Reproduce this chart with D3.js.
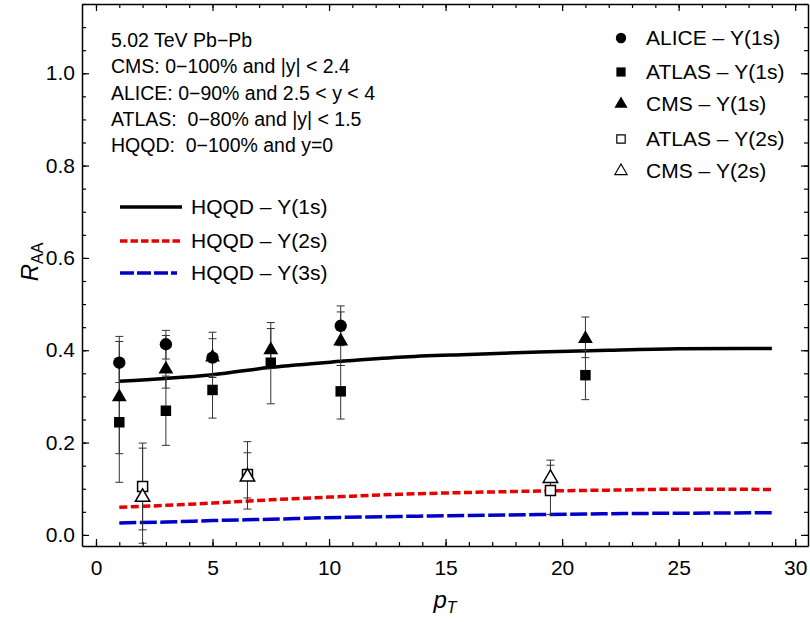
<!DOCTYPE html>
<meta charset="utf-8">
<style>
 body { margin: 0; background: #fff; }
 svg { font-family: 'Liberation Sans', Arial, sans-serif; }
 svg text { white-space: pre; }
 .axis path { stroke: #000; stroke-width: 1.5; }
 .axis line { stroke: #000; stroke-width: 1.2; }
 .axis text { font-size: 21px; fill: #000; font-family: 'Liberation Sans', Arial, sans-serif; }
 .err { stroke: #333; stroke-width: 1; }
</style>
<body>
<script src="https://cdn.jsdelivr.net/npm/d3@7"></script>
<script>

 // data
 var aliceX = [1, 3, 5, 10.5];
 var aliceY = [0.373, 0.413, 0.384, 0.453];
 var aliceLo = [0.330, 0.381, 0.345, 0.410];
 var aliceHi = [0.419, 0.443, 0.425, 0.496];

 var atlas1X = [1, 3, 5, 7.5, 10.5, 21];
 var atlas1Y = [0.244, 0.269, 0.314, 0.373, 0.311, 0.346];
 var atlas1Lo = [0.114, 0.194, 0.253, 0.284, 0.251, 0.293];
 var atlas1Hi = [0.370, 0.344, 0.375, 0.447, 0.367, 0.400];

 var cms1X = [1, 3, 5, 7.5, 10.5, 21];
 var cms1Y = [0.302, 0.362, 0.388, 0.404, 0.423, 0.428];
 var cms1Lo = [0.176, 0.318, 0.341, 0.362, 0.367, 0.384];
 var cms1Hi = [0.430, 0.432, 0.439, 0.460, 0.483, 0.472];

 var atlas2X = [2, 6.5, 19.5];
 var atlas2Y = [0.105, 0.131, 0.096];
 var atlas2Lo = [0.011, 0.056, 0.044];
 var atlas2Hi = [0.199, 0.202, 0.151];

 var cms2X = [2, 6.5, 19.5];
 var cms2Y = [0.085, 0.129, 0.126];
 var cms2Lo = [-0.018, 0.080, 0.090];
 var cms2Hi = [0.188, 0.178, 0.162];

 var hqqdPt = [1, 3, 5, 7.5, 10.5, 13, 16, 19, 22, 25, 29];
 var hqqd1s = [0.333, 0.339, 0.347, 0.363, 0.376, 0.385, 0.391, 0.396, 0.400, 0.403, 0.404];
 var hqqd2s = [0.060, 0.064, 0.069, 0.076, 0.083, 0.088, 0.092, 0.095, 0.097, 0.099, 0.0985];
 var hqqd3s = [0.026, 0.028, 0.031, 0.034, 0.038, 0.040, 0.042, 0.044, 0.046, 0.047, 0.048];

 var xTicks = [0, 5, 10, 15, 20, 25, 30];
 var yTicks = [0, 0.2, 0.4, 0.6, 0.8, 1.0];

 var infoLines = ["5.02 TeV Pb\u2212Pb",
                  "CMS: 0\u2212100% and |y| < 2.4",
                  "ALICE: 0\u221290% and 2.5 < y < 4",
                  "ATLAS:  0\u221280% and |y| < 1.5",
                  "HQQD:  0\u2212100% and y=0"];

 var width = 810, height = 622;
 var pLeft = 82, pRight = 808, pTop = 4, pBottom = 546;

 var xScale = d3.scaleLinear().domain([-0.6, 30.55]).range([pLeft, pRight]);
 var yScale = d3.scaleLinear().domain([-0.024, 1.15]).range([pBottom, pTop]);

 var svg = d3.select("body").append("svg")
             .attr("width", width)
             .attr("height", height);

 svg.append("clipPath").attr("id", "clip")
    .append("rect")
    .attr("x", pLeft).attr("y", pTop)
    .attr("width", pRight - pLeft).attr("height", pBottom - pTop);

 var chart = svg.append("g").attr("clip-path", "url(#clip)");

 function zip(xs, ys, lo, hi) {
     return xs.map(function(x, i) {
         return {x: x, y: ys[i], lo: lo ? lo[i] : null, hi: hi ? hi[i] : null};
     });
 }

 var minorX = d3.range(0, 31, 1);
 var minorY = d3.range(0, 1.16, 0.05);

 // frame with inward ticks on all four sides
 function frameAxis(axisFn, scale, ticks, minor, tr, labels, pad) {
     svg.append("g").attr("class", "axis").attr("transform", tr)
        .call(axisFn(scale).tickValues(minor).tickSize(-4).tickFormat(""))
        .select(".domain").remove();
     var fmt = scale === xScale ? d3.format("d") : d3.format(".1f");
     svg.append("g").attr("class", "axis").attr("transform", tr)
        .call(axisFn(scale).tickValues(ticks).tickSize(-7).tickSizeOuter(0)
              .tickPadding(pad)
              .tickFormat(labels ? fmt : ""));
 }

 frameAxis(d3.axisBottom, xScale, xTicks, minorX, "translate(0," + pBottom + ")", true, 14);
 frameAxis(d3.axisTop, xScale, xTicks, minorX, "translate(0," + pTop + ")", false, 0);
 frameAxis(d3.axisLeft, yScale, yTicks, minorY, "translate(" + pLeft + ",0)", true, 7);
 frameAxis(d3.axisRight, yScale, yTicks, minorY, "translate(" + pRight + ",0)", false, 0);

 // theory curves
 var line = d3.line()
              .x(function(d) { return xScale(d.x); })
              .y(function(d) { return yScale(d.y); })
              .curve(d3.curveMonotoneX);

 chart.append("path").datum(zip(hqqdPt, hqqd3s))
      .attr("fill", "none").attr("stroke", "#0000c8").attr("stroke-width", 3.5)
      .attr("stroke-dasharray", "17,3.5").attr("d", line);
 chart.append("path").datum(zip(hqqdPt, hqqd2s))
      .attr("fill", "none").attr("stroke", "#e60000").attr("stroke-width", 3.5)
      .attr("stroke-dasharray", "8,3.5").attr("d", line);
 chart.append("path").datum(zip(hqqdPt, hqqd1s))
      .attr("fill", "none").attr("stroke", "#000").attr("stroke-width", 3.5)
      .attr("d", line);

 // symbols
 var sym = {
     circle: d3.symbol().type(d3.symbolCircle).size(120),
     square: d3.symbol().type(d3.symbolSquare).size(110),
     triangle: d3.symbol().type(d3.symbolTriangle).size(95),
     osquare: d3.symbol().type(d3.symbolSquare).size(100),
     otriangle: d3.symbol().type(d3.symbolTriangle).size(90)
 };

 function errorBars(data) {
     var g = chart.append("g");
     data.forEach(function(d) {
         var x = xScale(d.x);
         g.append("line").attr("class", "err")
          .attr("x1", x).attr("x2", x)
          .attr("y1", yScale(d.lo)).attr("y2", yScale(d.hi));
         [d.lo, d.hi].forEach(function(v) {
             g.append("line").attr("class", "err")
              .attr("x1", x - 4).attr("x2", x + 4)
              .attr("y1", yScale(v)).attr("y2", yScale(v));
         });
     });
 }

 function points(data, shape, open) {
     chart.append("g").selectAll("path")
          .data(data).enter().append("path")
          .attr("d", sym[shape])
          .attr("transform", function(d) {
              var dy = shape.indexOf("triangle") >= 0 ? 1.5 : 0;
              return "translate(" + xScale(d.x) + "," + (yScale(d.y) + dy) + ")";
          })
          .attr("fill", open ? "#fff" : "#000")
          .attr("stroke", "#000")
          .attr("stroke-width", open ? 1.5 : 0);
 }

 var alice = zip(aliceX, aliceY, aliceLo, aliceHi);
 var atlas1 = zip(atlas1X, atlas1Y, atlas1Lo, atlas1Hi);
 var cms1 = zip(cms1X, cms1Y, cms1Lo, cms1Hi);
 var atlas2 = zip(atlas2X, atlas2Y, atlas2Lo, atlas2Hi);
 var cms2 = zip(cms2X, cms2Y, cms2Lo, cms2Hi);

 [alice, atlas1, cms1, atlas2, cms2].forEach(errorBars);
 points(alice, "circle", false);
 points(atlas1, "square", false);
 points(cms1, "triangle", false);
 points(atlas2, "osquare", true);
 points(cms2, "otriangle", true);

 // info text
 svg.append("g").selectAll("text")
    .data(infoLines).enter().append("text")
    .attr("x", 111)
    .attr("y", function(d, i) { return 47 + i * 26.3; })
    .attr("font-size", "19.5px")
    .text(function(d) { return d; });

 // marker legend
 var markerLegend = [
     {label: "ALICE \u2013 \u03A5(1s)", shape: "circle", open: false, y: 38},
     {label: "ATLAS \u2013 \u03A5(1s)", shape: "square", open: false, y: 72},
     {label: "CMS \u2013 \u03A5(1s)", shape: "triangle", open: false, y: 104},
     {label: "ATLAS \u2013 \u03A5(2s)", shape: "osquare", open: true, y: 139},
     {label: "CMS \u2013 \u03A5(2s)", shape: "otriangle", open: true, y: 171}
 ];
 var legSym = {
     circle: d3.symbol().type(d3.symbolCircle).size(85),
     square: d3.symbol().type(d3.symbolSquare).size(85),
     triangle: d3.symbol().type(d3.symbolTriangle).size(75),
     osquare: d3.symbol().type(d3.symbolSquare).size(70),
     otriangle: d3.symbol().type(d3.symbolTriangle).size(65)
 };
 var ml = svg.append("g").selectAll("g")
             .data(markerLegend).enter().append("g")
             .attr("transform", function(d) { return "translate(0," + d.y + ")"; });
 ml.append("path")
   .attr("d", function(d) { return legSym[d.shape](); })
   .attr("transform", "translate(621,0)")
   .attr("fill", function(d) { return d.open ? "#fff" : "#000"; })
   .attr("stroke", "#000")
   .attr("stroke-width", function(d) { return d.open ? 1.2 : 0; });
 ml.append("text")
   .attr("x", 646).attr("y", 7)
   .attr("font-size", "21px")
   .text(function(d) { return d.label; });

 // curve legend
 var curveLegend = [
     {label: "HQQD \u2013 \u03A5(1s)", color: "#000", dash: null, y: 207, x2: 182},
     {label: "HQQD \u2013 \u03A5(2s)", color: "#e60000", dash: "7.5,3", y: 241, x2: 182},
     {label: "HQQD \u2013 \u03A5(3s)", color: "#0000c8", dash: "14,3", y: 273, x2: 177}
 ];
 var cl = svg.append("g").selectAll("g")
             .data(curveLegend).enter().append("g");
 cl.append("line")
   .attr("x1", 120).attr("x2", function(d) { return d.x2; })
   .attr("y1", function(d) { return d.y; }).attr("y2", function(d) { return d.y; })
   .attr("stroke", function(d) { return d.color; })
   .attr("stroke-width", 3.5)
   .attr("stroke-dasharray", function(d) { return d.dash; });
 cl.append("text")
   .attr("x", 191).attr("y", function(d) { return d.y + 7; })
   .attr("font-size", "21px")
   .text(function(d) { return d.label; });

 // axis labels
 var yl = svg.append("text")
             .attr("transform", "translate(38,262)rotate(-90)")
             .attr("text-anchor", "middle")
             .attr("font-size", "24px");
 yl.append("tspan").attr("font-style", "italic").text("R");
 yl.append("tspan").attr("font-size", "16px").attr("dy", 5).text("AA");

 var xl = svg.append("text")
             .attr("x", 445).attr("y", 608)
             .attr("text-anchor", "middle")
             .attr("font-size", "24px");
 xl.append("tspan").attr("font-style", "italic").text("p");
 xl.append("tspan").attr("font-style", "italic").attr("font-size", "16px").attr("dy", 5).text("T");

</script>
